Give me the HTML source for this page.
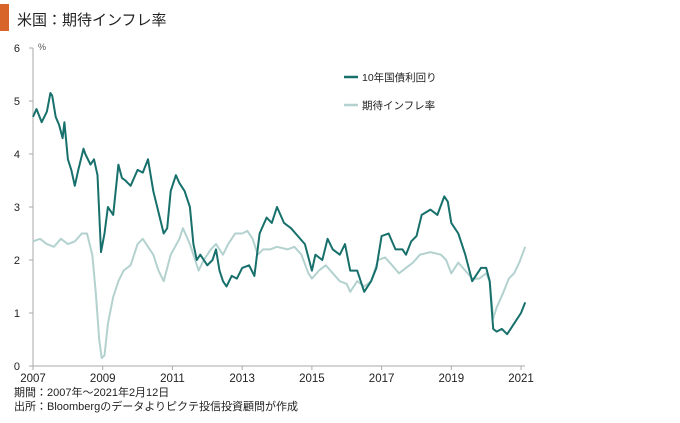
<!DOCTYPE html>
<html><head><meta charset="utf-8"><style>
body{margin:0;width:680px;height:418px;background:#fff;overflow:hidden;font-family:"Liberation Sans","Noto Sans CJK JP",sans-serif}
svg text{font-family:"Liberation Sans","Noto Sans CJK JP",sans-serif}
</style></head><body>
<svg width="680" height="418">
<rect x="0" y="4" width="9" height="27" fill="#d9642a"/>
<text x="17" y="25" font-size="15" fill="#222">米国：期待インフレ率</text>
<g id="axes"></g>
<g id="series"></g>
<line x1="344" y1="77" x2="358" y2="77" stroke="#17706b" stroke-width="2.5"/>
<text x="362" y="81" font-size="10.5" fill="#222">10年国債利回り</text>
<line x1="344" y1="105" x2="358" y2="105" stroke="#b3d2cf" stroke-width="2.5"/>
<text x="362" y="109" font-size="10.5" fill="#222">期待インフレ率</text>
<text x="14" y="396" font-size="11" fill="#222">期間：2007年～2021年2月12日</text>
<text x="14" y="410" font-size="11" fill="#222">出所：Bloombergのデータよりピクテ投信投資顧問が作成</text>
</svg>
<script>
const yTicks=[0,1,2,3,4,5,6];
const xTicks=[2007,2009,2011,2013,2015,2017,2019,2021];
const t10=[2007.0,2007.1,2007.25,2007.4,2007.5,2007.55,2007.65,2007.75,2007.85,2007.9,2008.0,2008.1,2008.2,2008.3,2008.45,2008.5,2008.65,2008.75,2008.85,2008.95,2009.05,2009.15,2009.3,2009.45,2009.55,2009.65,2009.8,2010.0,2010.15,2010.3,2010.45,2010.6,2010.75,2010.85,2010.95,2011.1,2011.2,2011.35,2011.5,2011.6,2011.7,2011.8,2011.9,2012.0,2012.15,2012.25,2012.35,2012.45,2012.55,2012.7,2012.85,2013.0,2013.2,2013.35,2013.5,2013.7,2013.85,2014.0,2014.2,2014.4,2014.6,2014.8,2015.0,2015.1,2015.3,2015.45,2015.6,2015.8,2015.95,2016.1,2016.3,2016.5,2016.7,2016.85,2017.0,2017.2,2017.4,2017.6,2017.7,2017.85,2018.0,2018.15,2018.4,2018.6,2018.8,2018.9,2019.0,2019.2,2019.4,2019.6,2019.7,2019.85,2020.0,2020.1,2020.2,2020.3,2020.45,2020.6,2020.7,2020.85,2021.0,2021.12];
const v10=[4.7,4.85,4.6,4.8,5.15,5.1,4.7,4.55,4.3,4.6,3.9,3.7,3.4,3.7,4.1,4.0,3.8,3.9,3.6,2.15,2.5,3.0,2.85,3.8,3.55,3.5,3.4,3.7,3.65,3.9,3.3,2.9,2.5,2.6,3.3,3.6,3.45,3.3,3.0,2.3,2.0,2.1,2.0,1.9,2.0,2.2,1.8,1.6,1.5,1.7,1.65,1.85,1.9,1.7,2.5,2.8,2.7,3.0,2.7,2.6,2.45,2.3,1.8,2.1,2.0,2.4,2.2,2.1,2.3,1.8,1.8,1.4,1.6,1.85,2.45,2.5,2.2,2.2,2.1,2.35,2.45,2.85,2.95,2.85,3.2,3.1,2.7,2.5,2.1,1.6,1.7,1.85,1.85,1.6,0.7,0.65,0.7,0.6,0.7,0.85,1.0,1.2];
const tBe=[2007.0,2007.2,2007.4,2007.6,2007.8,2008.0,2008.2,2008.4,2008.55,2008.7,2008.8,2008.9,2008.97,2009.05,2009.15,2009.3,2009.45,2009.6,2009.8,2010.0,2010.15,2010.3,2010.45,2010.6,2010.75,2010.95,2011.2,2011.3,2011.5,2011.65,2011.75,2011.9,2012.1,2012.25,2012.45,2012.6,2012.8,2013.0,2013.15,2013.3,2013.45,2013.6,2013.8,2014.0,2014.3,2014.5,2014.7,2014.9,2015.0,2015.2,2015.4,2015.6,2015.8,2016.0,2016.1,2016.3,2016.5,2016.7,2016.9,2017.1,2017.3,2017.5,2017.7,2017.9,2018.1,2018.4,2018.7,2018.85,2019.0,2019.2,2019.4,2019.6,2019.8,2020.0,2020.1,2020.2,2020.3,2020.5,2020.65,2020.8,2020.95,2021.12];
const vBe=[2.35,2.4,2.3,2.25,2.4,2.3,2.35,2.5,2.5,2.1,1.4,0.5,0.15,0.2,0.8,1.3,1.6,1.8,1.9,2.3,2.4,2.25,2.1,1.8,1.6,2.1,2.4,2.6,2.3,2.0,1.8,2.0,2.2,2.3,2.1,2.3,2.5,2.5,2.55,2.4,2.1,2.2,2.2,2.25,2.2,2.25,2.1,1.75,1.65,1.8,1.9,1.75,1.6,1.55,1.4,1.6,1.5,1.6,2.0,2.05,1.9,1.75,1.85,1.95,2.1,2.15,2.1,2.0,1.75,1.95,1.8,1.65,1.65,1.75,1.6,0.9,1.1,1.4,1.65,1.75,1.95,2.25];
const NS='http://www.w3.org/2000/svg';
const X=t=>33+(t-2007)*34.86;
const Y=v=>366-v*53;
const ax=document.getElementById('axes'),se=document.getElementById('series');
function mk(tag,at,p){const e=document.createElementNS(NS,tag);for(const k in at)e.setAttribute(k,at[k]);p.appendChild(e);return e;}
let a=mk('line',{x1:33,y1:Y(6),x2:33,y2:366,stroke:'#aaa'},ax);


a=mk('line',{x1:33,y1:366,x2:525,y2:366,stroke:'#aaa'},ax);


yTicks.forEach(v=>{
 mk('line',{x1:29,y1:Y(v),x2:33,y2:Y(v),stroke:'#aaa'},ax);
 const t=mk('text',{x:20,y:Y(v)+4,'font-size':11,fill:'#222','text-anchor':'end'},ax);t.textContent=v;
 
 
});
const pc=mk('text',{x:38,y:Y(6)+2,'font-size':9,fill:'#555'},ax);pc.textContent='%';


xTicks.forEach(v=>{
 mk('line',{x1:X(v),y1:366,x2:X(v),y2:370,stroke:'#aaa'},ax);
 const t=mk('text',{x:X(v),y:382,'font-size':11.5,fill:'#222','text-anchor':'middle'},ax);t.textContent=v;
 
 
});
function line(ts,vs,c){return mk('polyline',{points:ts.map((t,i)=>X(t).toFixed(1)+','+Y(vs[i]).toFixed(1)).join(' '),fill:'none',stroke:c,'stroke-width':2,'stroke-linejoin':'round'},se);}
const l2=line(tBe,vBe,'#b3d2cf');


const l1=line(t10,v10,'#17706b');


</script>
</body></html>
